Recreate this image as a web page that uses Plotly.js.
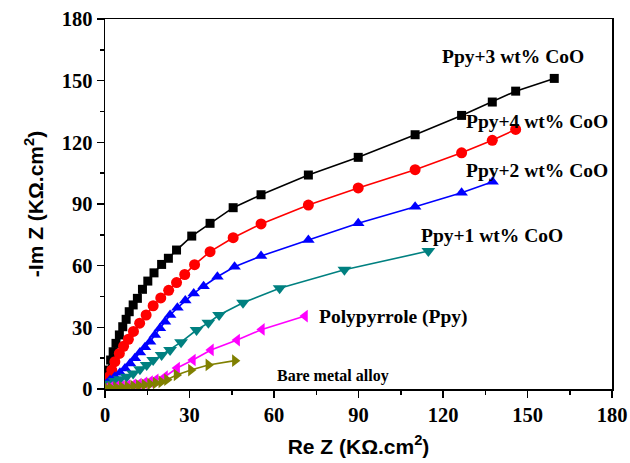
<!DOCTYPE html>
<html>
<head>
<meta charset="utf-8">
<script src="https://cdn.plot.ly/plotly-3.0.1.min.js"></script>
<style>html,body{margin:0;padding:0;background:#fff;}#chart{width:630px;height:463px;}</style>
</head>
<body>
<div id="chart"></div>
<script>
// Ppy+3 wt% CoO (black squares)
const ppy3X = [0.5, 0.8, 2.0, 2.9, 3.9, 5.1, 6.3, 7.5, 8.6, 10.0, 11.5, 13.3, 15.2, 17.4, 20.1, 22.5, 25.4, 30.8, 37.3, 45.5, 55.4, 72.2, 89.9, 110.1, 126.6, 137.5, 145.8, 159.5];
const ppy3Y = [5.0, 9.2, 14.1, 18.1, 22.2, 26.3, 30.3, 33.9, 37.6, 40.9, 44.1, 48.5, 52.5, 56.5, 60.6, 63.6, 67.6, 74.4, 80.6, 88.2, 94.5, 104.1, 112.7, 123.7, 133.1, 139.6, 144.9, 151.1];
// Ppy+4 wt% CoO (red circles)
const ppy4X = [0.6, 1.5, 2.4, 3.5, 5.1, 6.6, 8.3, 10.1, 12.3, 14.6, 17.1, 19.8, 22.6, 25.4, 28.3, 31.8, 37.3, 45.5, 55.4, 72.2, 89.9, 110.1, 126.6, 137.5, 145.8];
const ppy4Y = [3.5, 6.0, 9.2, 13.3, 17.3, 20.8, 24.2, 28.0, 32.0, 36.0, 40.5, 44.3, 48.0, 51.8, 55.7, 60.5, 66.8, 73.6, 80.3, 89.5, 97.8, 106.7, 114.9, 121.0, 126.3];
// Ppy+2 wt% CoO (blue up-triangles)
const ppy2X = [0.5, 1.8, 3.5, 5.3, 7.1, 8.9, 10.6, 12.4, 14.2, 16.0, 17.7, 19.5, 21.3, 23.1, 25.7, 28.5, 31.5, 35.0, 39.9, 46.0, 55.4, 72.2, 89.9, 110.1, 126.6, 137.6];
const ppy2Y = [2.5, 4.4, 6.0, 7.9, 10.0, 12.4, 14.9, 17.7, 20.3, 23.0, 26.3, 29.5, 32.7, 36.0, 39.5, 43.0, 46.5, 50.0, 54.6, 59.5, 64.7, 72.5, 80.6, 88.7, 95.5, 100.8];
// Ppy+1 wt% CoO (teal down-triangles)
const ppy1X = [0.5, 2.0, 3.5, 5.3, 7.7, 10.0, 12.4, 14.8, 17.1, 20.1, 23.1, 27.0, 32.5, 36.7, 40.5, 49.0, 62.0, 85.0, 114.8];
const ppy1Y = [1.5, 2.5, 3.9, 4.7, 6.0, 7.6, 9.6, 11.7, 14.1, 16.5, 19.0, 22.8, 28.7, 32.2, 36.0, 42.0, 49.0, 58.0, 67.1];
// Polypyrrole (Ppy) (magenta left-triangles)
const ppyX = [0.5, 2.0, 4.0, 6.0, 8.0, 10.0, 12.0, 14.0, 16.0, 18.0, 21.3, 25.6, 31.2, 37.6, 46.9, 55.7, 71.0];
const ppyY = [0.5, 0.8, 1.0, 1.3, 1.6, 2.0, 2.4, 3.0, 3.6, 4.5, 6.0, 10.2, 14.1, 19.0, 23.8, 29.0, 35.5];
// Bare metal alloy (olive right-triangles)
const bareX = [0.5, 2.0, 4.0, 6.0, 8.0, 10.0, 12.0, 14.0, 16.0, 18.0, 20.0, 22.0, 25.4, 30.5, 36.7, 46.1];
const bareY = [0.3, 0.5, 0.7, 0.9, 1.1, 1.4, 1.7, 2.0, 2.4, 2.9, 3.5, 4.5, 6.8, 9.2, 11.7, 13.8];

const seriesNames = ["Ppy+3 wt% CoO", "Ppy+4 wt% CoO", "Ppy+2 wt% CoO", "Ppy+1 wt% CoO", "Polypyrrole (Ppy)", "Bare metal alloy"];
const labelX = [119.0, 127.3, 127.3, 111.3, 75.2, 60.3];
const labelY = [161.6, 130.0, 106.5, 74.9, 35.0, 6.3];
const labelSize = [19.5, 19.5, 19.5, 19.5, 19.5, 16];
const tickVals = [0, 30, 60, 90, 120, 150, 180];

const xs = [ppy3X, ppy4X, ppy2X, ppy1X, ppyX, bareX];
const ys = [ppy3Y, ppy4Y, ppy2Y, ppy1Y, ppyY, bareY];
const colors = ["#000000", "#ff0000", "#0000ff", "#008080", "#ff00ff", "#808000"];
const symbols = ["square", "circle", "triangle-up", "triangle-down", "triangle-left", "triangle-right"];
const sizes = [9, 11, 11, 12, 11, 11];

const traces = xs.map((x, i) => ({
  x: x, y: ys[i], type: "scatter", mode: "lines+markers", name: seriesNames[i],
  line: {color: colors[i], width: 1.6},
  marker: {color: colors[i], symbol: symbols[i], size: sizes[i]},
  showlegend: false
}));

const annotations = seriesNames.map((t, i) => ({
  x: labelX[i], y: labelY[i], xref: "x", yref: "y", text: "<b>" + t + "</b>",
  showarrow: false, xanchor: "left", yanchor: "middle",
  font: {family: "Liberation Serif, Times New Roman, serif", size: labelSize[i], color: "#000"}
}));

const axisCommon = {
  range: [0, 180], tickvals: tickVals, ticktext: tickVals.map(String),
  ticks: "outside", ticklen: 7, tickwidth: 1.5, tickcolor: "#000",
  showline: true, linecolor: "#000", linewidth: 1.5, mirror: true,
  showgrid: false, zeroline: false,
  tickfont: {family: "Liberation Serif, Times New Roman, serif", size: 20.5, color: "#000", weight: "bold"},
  minor: {dtick: 15, ticks: "outside", ticklen: 4, tickcolor: "#000", tickwidth: 1.5, showgrid: false}
};

const layout = {
  width: 630, height: 463,
  margin: {l: 105, r: 18, t: 19, b: 74},
  paper_bgcolor: "#fff", plot_bgcolor: "#fff",
  xaxis: Object.assign({}, axisCommon, {
    title: {text: "<b>Re Z (KΩ.cm<sup>2</sup>)</b>", font: {family: "Liberation Sans, Arial, sans-serif", size: 21, color: "#000"}, standoff: 14}
  }),
  yaxis: Object.assign({}, axisCommon, {
    title: {text: "<b>-Im Z (KΩ.cm<sup>2</sup>)</b>", font: {family: "Liberation Sans, Arial, sans-serif", size: 21, color: "#000"}, standoff: 12}
  }),
  annotations: annotations
};

Plotly.newPlot("chart", traces, layout, {displayModeBar: false, staticPlot: true});
</script>
</body>
</html>
